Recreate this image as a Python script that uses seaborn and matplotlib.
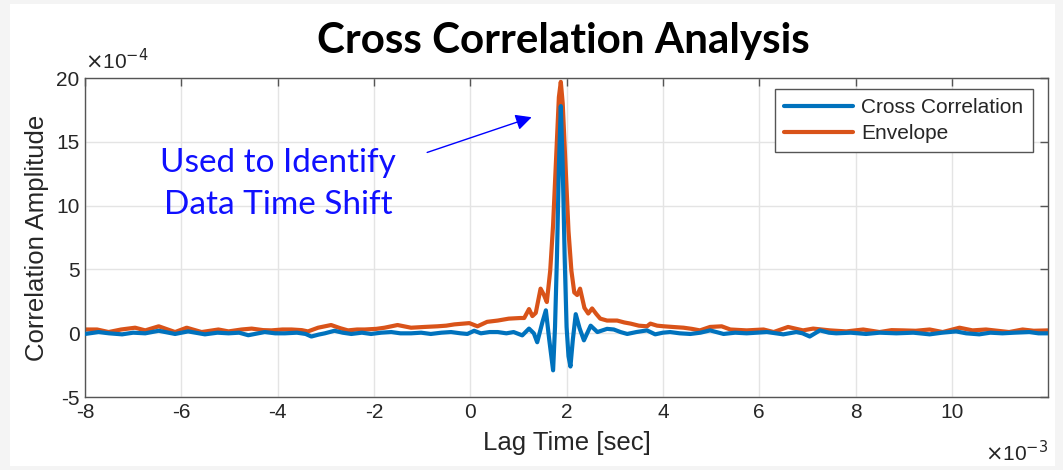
import matplotlib
matplotlib.use("Agg")
import matplotlib.pyplot as plt
from matplotlib.patches import Rectangle
import seaborn as sns
import pandas as pd

# Lag time in units of 1e-3 s, amplitude in units of 1e-4
cc_lag = [-8.0, -7.72, -7.5, -7.23, -7.0, -6.75, -6.47, -6.13, -5.86, -5.51, -5.25, -5.02,
          -4.8, -4.61, -4.27, -4.05, -3.85, -3.6, -3.42, -3.30, -3.15, -3.02, -2.82, -2.65,
          -2.47, -2.25, -2.06, -1.85, -1.64, -1.45, -1.23, -1.02, -0.82, -0.6, -0.40, -0.2,
          -0.06, 0.08, 0.22, 0.4, 0.57, 0.75, 0.9, 1.08, 1.22, 1.32, 1.39, 1.50, 1.57, 1.64,
          1.72, 1.76, 1.80, 1.84, 1.88, 1.92, 1.96, 2.00, 2.04, 2.08, 2.13, 2.19, 2.27, 2.36,
          2.50, 2.64, 2.84, 2.98, 3.12, 3.26, 3.45, 3.67, 3.84, 4.0, 4.15, 4.35, 4.57, 4.78,
          4.98, 5.26, 5.5, 5.74, 5.95, 6.16, 6.35, 6.50, 6.77, 6.9, 7.05, 7.26, 7.45, 7.6,
          7.9, 8.22, 8.5, 8.85, 9.2, 9.54, 9.8, 10.09, 10.3, 10.57, 10.8, 11.05, 11.3, 11.61,
          11.8, 12.0]
cc_amp = [-0.05, 0.1, 0.0, -0.08, 0.05, 0.0, 0.2, -0.05, 0.15, -0.08, 0.05, 0.0,
          0.05, -0.15, 0.1, 0.0, 0.0, 0.05, -0.05, -0.25, -0.1, 0.0, 0.2, 0.05,
          -0.05, 0.05, -0.05, 0.05, 0.1, 0.0, 0.0, 0.05, -0.05, 0.05, 0.1, 0.0,
          -0.05, 0.2, 0.0, 0.1, 0.1, 0.0, 0.1, -0.16, 0.37, 0.0, -0.7, 0.9, 1.8, -0.5,
          -2.9, 0.5, 6.0, 13.0, 17.8, 13.0, 6.0, 0.5, -1.8, -2.6, -0.5, 1.5, 0.4, -0.55,
          0.6, 0.1, 0.35, 0.3, 0.1, -0.05, 0.1, 0.23, -0.08, 0.05, 0.1, 0.0, -0.05, 0.05,
          0.23, -0.05, 0.05, 0.0, 0.05, 0.1, 0.0, -0.08, 0.1, 0.0, -0.25, 0.23, 0.05, 0.0,
          0.05, -0.05, 0.05, 0.0, 0.05, -0.08, 0.05, 0.15, 0.0, -0.08, 0.05, 0.0, 0.05, 0.1,
          0.0, 0.0]

env_lag = [-8.0, -7.75, -7.51, -7.25, -6.96, -6.75, -6.47, -6.13, -5.89, -5.58, -5.23, -5.02,
           -4.75, -4.54, -4.3, -4.13, -3.9, -3.71, -3.5, -3.37, -3.16, -2.89, -2.7, -2.54,
           -2.35, -2.19, -1.95, -1.78, -1.51, -1.23, -0.95, -0.68, -0.5, -0.33, -0.02, 0.15,
           0.35, 0.57, 0.8, 1.04, 1.12, 1.22, 1.29, 1.36, 1.46, 1.53, 1.59, 1.66, 1.72, 1.78,
           1.84, 1.88, 1.92, 1.98, 2.04, 2.10, 2.16, 2.22, 2.28, 2.37, 2.45, 2.53, 2.62, 2.70,
           2.84, 2.97, 3.05, 3.2, 3.33, 3.5, 3.67, 3.74, 3.88, 4.02, 4.2, 4.43, 4.6, 4.77,
           4.98, 5.22, 5.40, 5.74, 6.09, 6.30, 6.60, 6.91, 7.12, 7.47, 7.81, 8.16, 8.50, 8.75,
           8.99, 9.25, 9.54, 9.81, 10.16, 10.43, 10.71, 10.95, 11.19, 11.47, 11.7, 12.0]
env_amp = [0.3, 0.3, 0.1, 0.3, 0.44, 0.23, 0.55, 0.1, 0.44, 0.1, 0.3, 0.15,
           0.3, 0.37, 0.25, 0.23, 0.3, 0.3, 0.25, 0.15, 0.44, 0.65, 0.4, 0.23,
           0.3, 0.3, 0.35, 0.44, 0.65, 0.44, 0.5, 0.55, 0.6, 0.7, 0.8, 0.55,
           0.9, 1.0, 1.15, 1.2, 1.2, 1.9, 1.35, 1.6, 3.5, 3.0, 2.45, 4.9, 8.5, 13.5,
           18.5, 19.7, 18.0, 13.0, 8.0, 4.9, 3.2, 3.0, 3.5, 2.0, 1.55, 1.95, 1.5, 1.15,
           1.0, 1.0, 1.0, 0.85, 0.76, 0.6, 0.55, 0.76, 0.6, 0.55, 0.5, 0.44, 0.35, 0.23,
           0.5, 0.55, 0.3, 0.23, 0.3, 0.1, 0.5, 0.23, 0.37, 0.23, 0.15, 0.3, 0.1, 0.25,
           0.23, 0.2, 0.3, 0.1, 0.44, 0.23, 0.3, 0.2, 0.1, 0.3, 0.2, 0.23]

x_ticks = [-8, -6, -4, -2, 0, 2, 4, 6, 8, 10]
y_ticks = [-5, 0, 5, 10, 15, 20]

sns.set_style("white")
plt.rcParams["font.family"] = ["Liberation Sans", "DejaVu Sans"]
plt.rcParams["axes.unicode_minus"] = False

fig = plt.figure(figsize=(10.63, 4.70), dpi=100, facecolor="#f4f4f4")
fig.add_artist(Rectangle((10 / 1063, 4 / 470), 1045 / 1063, 462 / 470,
                         transform=fig.transFigure, facecolor="white",
                         edgecolor="none", zorder=-10))
ax = fig.add_axes([0.080, 0.155, 0.906, 0.679])
ax.set_facecolor("white")

blue = "#0072BD"
orange = "#D95319"
df_cc = pd.DataFrame({"lag": cc_lag, "amp": cc_amp})
df_env = pd.DataFrame({"lag": env_lag, "amp": env_amp})
sns.lineplot(data=df_cc, x="lag", y="amp", ax=ax, color=blue, lw=3.0,
             label="Cross Correlation", zorder=3, sort=False)
sns.lineplot(data=df_env, x="lag", y="amp", ax=ax, color=orange, lw=3.0,
             label="Envelope", zorder=2, sort=False)

ax.set_xlim(-8, 12)
ax.set_ylim(-5, 20)
ax.set_xticks(x_ticks)
ax.set_xticklabels([str(t) for t in x_ticks])
ax.set_yticks(y_ticks)
ax.set_yticklabels([str(t) for t in y_ticks])
ax.grid(True, color="#e4e4e4", lw=1.0)
ax.set_axisbelow(True)
frame_col = "#555555"
for s in ax.spines.values():
    s.set_visible(True)
    s.set_color(frame_col)
    s.set_linewidth(1.0)
ax.tick_params(axis="both", direction="in", length=6, width=1, color=frame_col,
               labelsize=15, labelcolor="#262626", top=True, right=True, pad=4)
ax.set_xlabel("Lag Time [sec]", fontsize=18.5, color="#262626", labelpad=7)
ax.set_ylabel("Correlation Amplitude", fontsize=18.5, color="#262626", labelpad=5)

ax.text(0.0, 1.015, r"$\times$10$^{-4}$", transform=ax.transAxes, fontsize=15,
        color="#262626", ha="left", va="bottom")
ax.text(1.0, -0.135, r"$\times$10$^{-3}$", transform=ax.transAxes, fontsize=15,
        color="#262626", ha="right", va="top")

leg = ax.legend(loc="upper right", bbox_to_anchor=(0.984, 0.966), fontsize=15,
                frameon=True, fancybox=False, framealpha=1, edgecolor="#555555",
                handlelength=3.3, borderpad=0.45, labelspacing=0.32, handletextpad=0.4,
                borderaxespad=0)
leg.get_frame().set_linewidth(1.0)
for t in leg.get_texts():
    t.set_color("#262626")

fig.text(0.53, 0.912, "Cross Correlation Analysis", fontsize=30.3, fontweight="bold",
         family=["Lato", "DejaVu Sans"], ha="center", va="center", color="black")

ax.annotate("", xy=(1.33, 17.0), xytext=(-0.95, 14.1),
            arrowprops=dict(arrowstyle="-|>", color="#0000ff", lw=1.0,
                            mutation_scale=24))
ax.text(-3.99, 11.7, "Used to Identify\nData Time Shift", fontsize=24,
        family=["Lato", "DejaVu Sans"], color="#1010ff", ha="center", va="center",
        linespacing=1.5)

fig.savefig("out.png", dpi=100, facecolor=fig.get_facecolor())
